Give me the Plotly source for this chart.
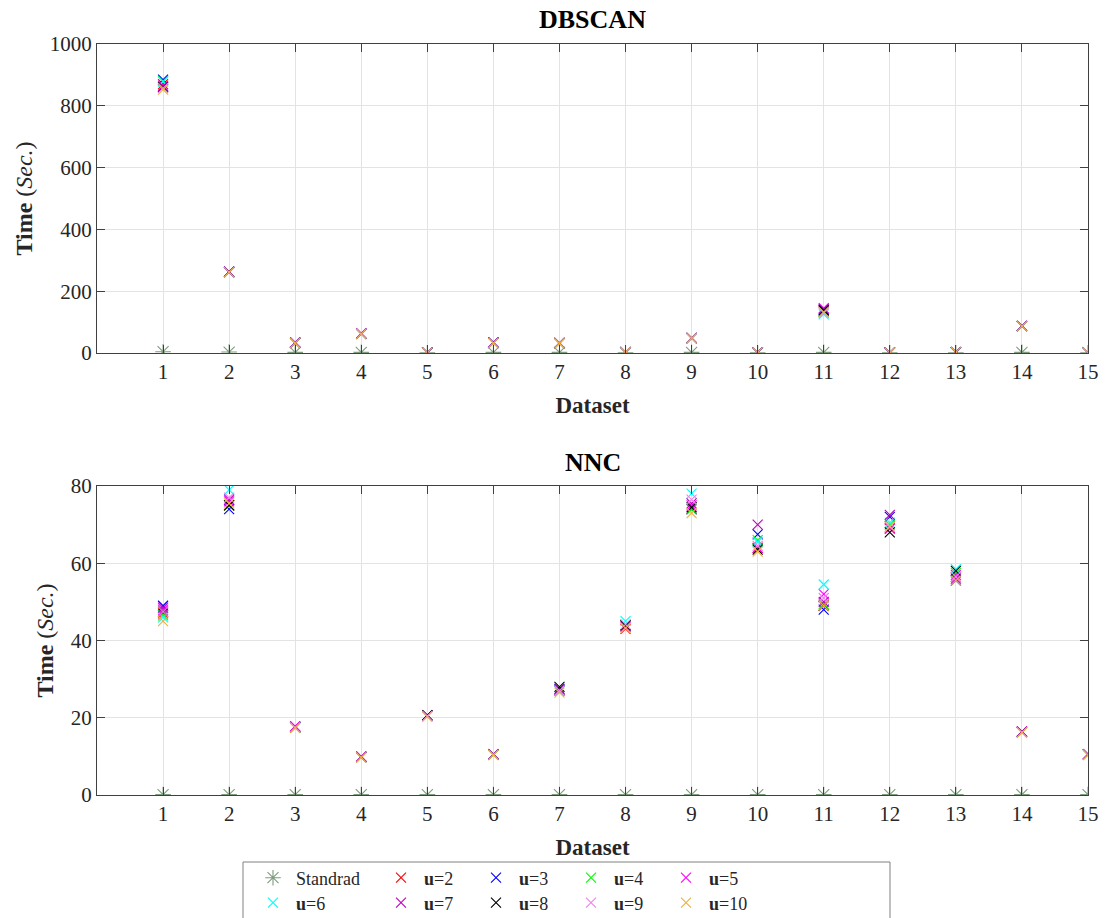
import plotly.graph_objects as go

W, H = 1105, 918

datasets = list(range(1, 16))
x_ticks = list(range(1, 16))

# DBSCAN times (sec.)
db_std = [4, 3, 2, 2, 1, 2, 2, 1, 2, 1, 2, 1, 1, 2, 1]
db_u2 = [870, 262, 33, 62, 1, 33, 32, 3, 48, 2, 135, 1, 3, 87, 1]
db_u3 = [885, 263, 34, 63, 1, 34, 33, 3, 49, 2, 140, 1, 3, 88, 1]
db_u4 = [880, 262, 33, 62, 1, 33, 32, 3, 48, 2, 133, 1, 3, 87, 1]
db_u5 = [865, 261, 34, 64, 1, 33, 32, 3, 49, 2, 145, 1, 3, 88, 1]
db_u6 = [878, 262, 33, 62, 1, 33, 32, 3, 48, 2, 125, 1, 3, 87, 1]
db_u7 = [862, 263, 33, 63, 1, 34, 33, 3, 48, 2, 143, 1, 3, 87, 1]
db_u8 = [860, 262, 33, 62, 1, 33, 32, 3, 48, 2, 138, 1, 3, 87, 1]
db_u9 = [858, 261, 33, 63, 1, 33, 32, 3, 48, 2, 130, 1, 3, 87, 1]
db_u10 = [852, 262, 32, 61, 1, 32, 31, 3, 47, 2, 132, 1, 3, 86, 1]

# NNC times (sec.)
nnc_std = [0.1, 0.1, 0.1, 0.1, 0.1, 0.1, 0.1, 0.1, 0.1, 0.1, 0.1, 0.1, 0.1, 0.1, 0.1]
nnc_u2 = [47, 75, 17.5, 9.8, 20.5, 10.5, 27, 43, 74, 64, 49, 69, 56.5, 16.3, 10.5]
nnc_u3 = [49, 74, 17.6, 9.8, 20.6, 10.5, 27.5, 44, 74, 67.5, 48, 72, 55.5, 16.3, 10.5]
nnc_u4 = [46.5, 75, 17.5, 9.9, 20.5, 10.4, 27, 44, 74, 66, 49.5, 70, 57.5, 16.2, 10.4]
nnc_u5 = [48, 76, 17.8, 10, 20.4, 10.6, 27, 43.5, 75, 64, 52, 69, 57, 16.4, 10.6]
nnc_u6 = [46, 79, 17.5, 9.8, 20.5, 10.5, 27, 45, 78, 65.5, 54.5, 70.5, 58.5, 16.3, 10.5]
nnc_u7 = [48.5, 76.5, 17.7, 9.9, 20.6, 10.6, 27.2, 43.8, 75.5, 70, 50, 72.5, 56, 16.5, 10.6]
nnc_u8 = [47.5, 75, 17.5, 9.8, 20.7, 10.5, 28, 44, 74.5, 63.5, 49, 68, 58, 16.3, 10.5]
nnc_u9 = [47.5, 77, 17.6, 9.8, 20.5, 10.5, 27, 44.2, 76.5, 64.5, 51, 69.5, 56.5, 16.3, 10.5]
nnc_u10 = [45, 75.5, 17.3, 9.7, 20.3, 10.3, 26.5, 43.2, 73, 63, 49, 69.5, 55.5, 16.1, 10.3]

names = ["Standrad", "<b>u</b>=2", "<b>u</b>=3", "<b>u</b>=4", "<b>u</b>=5",
         "<b>u</b>=6", "<b>u</b>=7", "<b>u</b>=8", "<b>u</b>=9", "<b>u</b>=10"]
colors = ["#7f9c7f", "#ff0000", "#0000ff", "#00ff00", "#ff00ff",
          "#00ffff", "#c000c0", "#000000", "#ee82ee", "#edb040"]
db_series = [db_std, db_u2, db_u3, db_u4, db_u5, db_u6, db_u7, db_u8, db_u9, db_u10]
nnc_series = [nnc_std, nnc_u2, nnc_u3, nnc_u4, nnc_u5, nnc_u6, nnc_u7, nnc_u8, nnc_u9, nnc_u10]

FONT = "Liberation Serif"

fig = go.Figure()
for i, (nm, col) in enumerate(zip(names, colors)):
    sym = "asterisk-open" if i == 0 else "x-thin-open"
    size = 13 if i == 0 else 10
    marker = dict(symbol=sym, size=size, color=col, line=dict(color=col, width=1.1))
    leg = "legend" if i < 5 else "legend2"
    lw = 77 if i % 5 == 0 else 44
    fig.add_trace(go.Scatter(x=datasets, y=db_series[i], mode="markers", name=nm,
                             marker=marker, xaxis="x", yaxis="y", legend=leg,
                             legendwidth=lw, showlegend=True))
    fig.add_trace(go.Scatter(x=datasets, y=nnc_series[i], mode="markers", name=nm,
                             marker=marker, xaxis="x2", yaxis="y2", showlegend=False))

xd = [97 / W, 1088 / W]
axis_common = dict(showline=True, linecolor="#404040", linewidth=1, mirror="ticks",
                   ticks="inside", ticklen=8, tickcolor="#404040",
                   showgrid=True, gridcolor="#e3e3e3", gridwidth=1, zeroline=False,
                   tickfont=dict(family=FONT, size=21, color="#262626"))
ytitle = dict(text="<b>Time</b> (<i>Sec.</i>)", font=dict(size=24), standoff=10)
xtitle = dict(text="<b>Dataset</b>", font=dict(size=23), standoff=13)

fig.update_layout(
    width=W, height=H,
    margin=dict(l=0, r=0, t=0, b=0, autoexpand=False),
    paper_bgcolor="white", plot_bgcolor="white",
    font=dict(family=FONT, color="#262626"),
    xaxis=dict(domain=xd, range=[0, 15], tickvals=x_ticks, anchor="y", title=xtitle, **axis_common),
    yaxis=dict(domain=[1 - 353 / H, 1 - 44 / H], range=[0, 1000], tickvals=[0, 200, 400, 600, 800, 1000],
               anchor="x", title=ytitle, **axis_common),
    xaxis2=dict(domain=xd, range=[0, 15], tickvals=x_ticks, anchor="y2", title=xtitle, **axis_common),
    yaxis2=dict(domain=[1 - 795 / H, 1 - 486 / H], range=[0, 80], tickvals=[0, 20, 40, 60, 80],
                anchor="x2", title=ytitle, **axis_common),
    legend=dict(orientation="h", x=250 / W, xanchor="left", y=1 - 878 / H, yanchor="middle",
                itemwidth=36,
                bgcolor="rgba(0,0,0,0)", borderwidth=0, font=dict(family=FONT, size=18, color="#262626"),
                itemclick=False),
    legend2=dict(orientation="h", x=250 / W, xanchor="left", y=1 - 903 / H, yanchor="middle",
                 itemwidth=36,
                 bgcolor="rgba(0,0,0,0)", borderwidth=0, font=dict(family=FONT, size=18, color="#262626"),
                 itemclick=False),
    annotations=[
        dict(text="<b>DBSCAN</b>", x=592.5 / W, y=1 - 20 / H, xref="paper", yref="paper",
             showarrow=False, font=dict(family=FONT, size=26, color="#000000"), yanchor="middle"),
        dict(text="<b>NNC</b>", x=592.5 / W, y=1 - 462 / H, xref="paper", yref="paper",
             showarrow=False, font=dict(family=FONT, size=26, color="#000000"), yanchor="middle"),
    ],
    shapes=[dict(type="rect", xref="paper", yref="paper", x0=243 / W, x1=890 / W,
                 y0=-0.01, y1=1 - 862 / H, line=dict(color="#808080", width=1))],
)

fig.write_html("out.html")
